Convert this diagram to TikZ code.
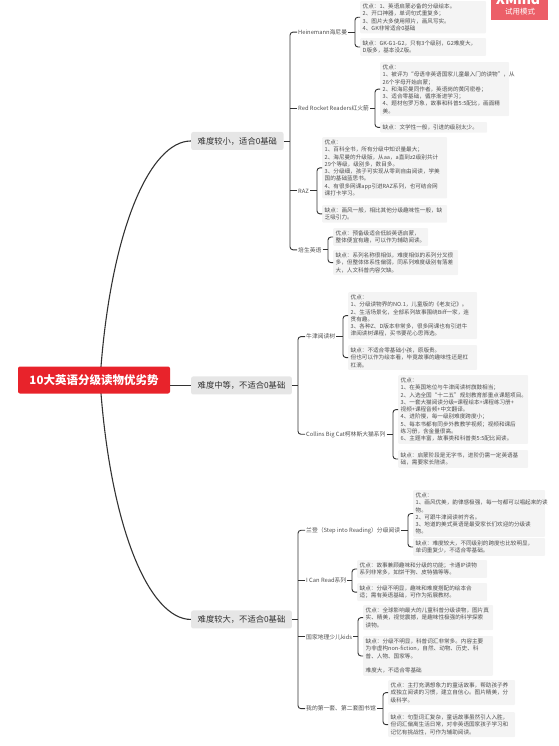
\documentclass[tikz,border=0pt]{standalone}
\usepackage{fontspec}
\setmainfont{Noto Sans CJK SC}
\usetikzlibrary{calc,backgrounds}
\definecolor{rootred}{HTML}{E8232B}
\definecolor{badgec}{HTML}{EC5F68}
\definecolor{l1bg}{HTML}{E6E6E6}
\definecolor{l1tx}{HTML}{333333}
\definecolor{boxbg}{HTML}{F4F4F4}
\definecolor{boxtx}{HTML}{4F4F4F}
\definecolor{l2tx}{HTML}{4F4F4F}
\definecolor{linec}{HTML}{333333}
\tikzset{
  cbox/.style={fill=boxbg, text=boxtx, font=\fontsize{5.6}{7.3}\selectfont, align=left,
    inner xsep=2.5pt, inner ysep=2.5pt, anchor=north west, rounded corners=1pt},
  l2/.style={text=l2tx, font=\fontsize{5.8}{7}\selectfont, inner sep=1pt, anchor=west},
  l1/.style={fill=l1bg, text=l1tx, font=\fontsize{8.3}{10}\selectfont, inner xsep=6.5pt,
    minimum height=18pt, rounded corners=2pt, anchor=west},
  rootn/.style={fill=rootred, text=white, font=\bfseries\fontsize{11.5}{13}\selectfont,
    minimum width=152pt, minimum height=27pt, rounded corners=2pt},
  ln/.style={draw=linec, line width=0.9pt},
  brk/.style={draw=linec, line width=0.9pt, rounded corners=3pt},
  curv/.style={draw=linec, line width=1.1pt},
}
\begin{document}
\begin{tikzpicture}[x=1pt,y=-1pt]
\useasboundingbox (0,0) rectangle (558,746);
\clip (0,0) rectangle (558,746);
\coordinate (c1) at (191,0);
\coordinate (c2a) at (297,0);
\coordinate (c2b) at (305,0);

% badge
\node[fill=badgec, minimum width=57pt, minimum height=20pt, inner sep=0pt, anchor=north west] (badge) at (491,0) {};
\node[text=white, font=\bfseries\fontsize{14}{14}\selectfont, anchor=base] (xm) at (518,4.5) {XMind};
\node[text=white, font=\fontsize{7.5}{8}\selectfont] (try) at (520,12) {试用模式};

% ---------- group 1 boxes ----------
\node[cbox, text width=121pt] (h1) at (360,1) {优点：1、英语启蒙必备的分级绘本。\\2、开口神器，单词句式重复多；\\3、图片大多使用照片，画风写实。\\4、GK非常适合0基础};
\node[cbox, text width=121pt] (h2) at (360,38) {缺点：GK-G1-G2，只有3个级别，G2难度大，\\D版多，基本没Z版。};
\node[cbox, text width=124pt] (r1) at (380,62) {优点：\\1、被评为“母语非英语国家儿童最入门的读物”，从\\26个字母开始启蒙；\\2、和海尼曼同作者，英语岗的黄冈密卷；\\3、适合零基础，循序渐进学习；\\4、题材包罗万象，故事和科普5:5配比，画面精\\美。};
\node[cbox, text width=102pt] (r2) at (380,122) {缺点：文学性一般，引进的级别太少。};
\node[cbox, text width=120pt] (z1) at (322,137) {优点：\\1、百科全书，所有分级中知识量最大；\\2、海尼曼的升级版，从aa，a直到z2级别共计\\29个等级，级别多，数目多。\\3、分级细，孩子可实现从零到自由阅读，学美\\国的基础蓝思书。\\4、有很多网课app引进RAZ系列，也可结合网\\课打卡学习。};
\node[cbox, text width=120pt] (z2) at (322,205) {缺点：画风一般，相比其他分级趣味性一般，缺\\乏吸引力。};
\node[cbox, text width=90pt] (p1) at (333,228) {优点：预备级适合低龄英语启蒙，\\整体便宜有趣，可以作为辅助阅读。};
\node[cbox, text width=120pt] (p2) at (333,250) {缺点：系列名称很相似，难度相似的系列分叉很\\多，但整体体系性偏弱，同系列难度级别有落差\\大，人文科普内容欠缺。};

% ---------- group 2 boxes ----------
\node[cbox, text width=124pt] (o1) at (348,292) {优点：\\1、分级读物界的NO.1，儿童版的《老友记》。\\2、生活场景化，全部系列故事围绕Biff一家，连\\贯有趣。\\3、各种Z、D版本非常多，很多网课也有引进牛\\津阅读树课程，买书要花心思筛选。};
\node[cbox, text width=124pt] (o2) at (348,345) {缺点：不适合零基础小孩，原版贵。\\但也可以作为绘本看，毕竟故事的趣味性还是杠\\杠滴。};
\node[cbox, text width=125pt] (b1) at (398,375) {优点：\\1、在英国地位与牛津阅读树旗鼓相当；\\2、入选全国“十二五”规划教育部重点课题项目。\\3、一套大猫阅读分级=课程绘本+课程练习册+\\视频+课程音频+中文翻译。\\4、进阶慢，每一级别难度跨度小；\\5、每本书都有同步外教教学视频；视频和课后\\练习册，含金量很高。\\6、主题丰富，故事类和科普类5:5配比阅读。};
\node[cbox, text width=125pt] (b2) at (398,450) {缺点：启蒙阶段是无字书，进阶仍需一定英语基\\础，需要家长陪读。};

% ---------- group 3 boxes ----------
\node[cbox, text width=127pt] (s1) at (413,490) {优点：\\1、画风优美，韵律感极强，每一句都可以唱起来的读\\物。\\2、可跟牛津阅读树齐名。\\3、地道的美式英语是最受家长们欢迎的分级读\\物。};
\node[cbox, text width=127pt] (s2) at (413,538) {缺点：难度较大，不同级别的跨度也比较明显，\\单词重复少，不适合零基础。};
\node[cbox, text width=125pt] (i1) at (357,560) {优点：故事兼顾趣味和分级的功能；卡通IP读物\\系列非常多，如饼干狗、皮特猫等等。};
\node[cbox, text width=125pt] (i2) at (357,583) {缺点：分级不明显，趣味和难度搭配的绘本合\\适；需有英语基础，可作为拓展教材。};
\node[cbox, text width=125pt] (n1) at (363,605) {优点：全球影响最大的儿童科普分级读物，图片真\\实、精美，视觉震撼，是趣味性极强的科学探索\\读物。};
\node[cbox, text width=125pt] (n2) at (363,636) {缺点：分级不明显，科普词汇非常多。内容主要\\为非虚构non-fiction，自然、动物、历史、科\\普、人物、国家等。\\[7.3pt]难度大，不适合零基础};
\node[cbox, text width=122pt] (m1) at (388,680) {优点：主打充满想象力的童话故事，帮助孩子养\\成独立阅读的习惯，建立自信心。图片精美，分\\级科学。};
\node[cbox, text width=122pt] (m2) at (388,712) {缺点：句型词汇复杂，童话故事虽然引人入胜，\\但词汇偏离生活日常，对非英语国家孩子学习和\\记忆有挑战性，可作为辅助阅读。};

% ---------- level 2 labels ----------
\path ($(h1.west)!0.5!(h2.west)$) coordinate (hm);
\node[l2] (hein) at (hm -| c2a) {Heinemann海尼曼};
\path ($(r1.west)!0.5!(r2.west)$) coordinate (rm);
\node[l2] (rr) at (rm -| c2a) {Red Rocket Readers红火箭};
\path ($(z1.west)!0.5!(z2.west)$) coordinate (zm);
\node[l2] (raz) at (zm -| c2a) {RAZ};
\path ($(p1.west)!0.5!(p2.west)$) coordinate (pm);
\node[l2] (pear) at (pm -| c2a) {培生英语};

\path ($(o1.west)!0.5!(o2.west)$) coordinate (om);
\node[l2] (ox) at (om -| c2b) {牛津阅读树};
\path ($(b1.west)!0.5!(b2.west)$) coordinate (bm);
\node[l2] (col) at (bm -| c2b) {Collins Big Cat柯林斯大猫系列};

\path ($(s1.west)!0.5!(s2.west)$) coordinate (sm);
\node[l2] (step) at (sm -| c2b) {兰登（Step into Reading）分级阅读};
\path ($(i1.west)!0.5!(i2.west)$) coordinate (im);
\node[l2] (icr) at (im -| c2b) {I Can Read系列};
\path ($(n1.west)!0.5!(n2.west)$) coordinate (nm);
\node[l2] (ngk) at (nm -| c2b) {国家地理少儿kids};
\path ($(m1.west)!0.5!(m2.west)$) coordinate (mm);
\node[l2] (lib) at (mm -| c2b) {我的第一套、第二套图书馆};

% ---------- level 1 ----------
\path ($(hein.west)!0.5!(pear.west)$) coordinate (g1);
\node[l1] (L1a) at (g1 -| c1) {难度较小，适合0基础};
\path ($(ox.west)!0.5!(col.west)$) coordinate (g2);
\node[l1] (L1b) at (g2 -| c1) {难度中等，不适合0基础};
\path ($(step.west)!0.5!(lib.west)$) coordinate (g3);
\node[l1] (L1c) at (g3 -| c1) {难度较大，不适合0基础};

% root
\node[rootn] (root) at (94,380) {10大英语分级读物优劣势};

% ---------- connectors ----------
\begin{scope}[on background layer]
\draw[curv] ($(root.center)+(6,0)$) .. controls +(10,-150) and +(-41,0) .. (L1a.west);
\draw[curv] ($(root.center)+(6,0)$) .. controls +(10,150) and +(-41,0) .. (L1c.west);
\end{scope}
\draw[curv] (L1b.west -| root.east) -- (L1b.west);

% level1 -> level2
\draw[brk] (hein.west) -- ++(-7,0) |- (pear.west);
\draw[ln] (rr.west) -- ++(-7,0);
\draw[ln] (raz.west) -- ++(-7,0);
\draw[ln] (L1a.east) -- ($(L1a.east -| hein.west)+(-7,0)$);

\draw[brk] (ox.west) -- ++(-7,0) |- (col.west);
\draw[ln] (L1b.east) -- ($(L1b.east -| ox.west)+(-7,0)$);

\draw[brk] (step.west) -- ++(-7,0) |- (lib.west);
\draw[ln] (icr.west) -- ++(-7,0);
\draw[ln] (ngk.west) -- ++(-7,0);
\draw[ln] (L1c.east) -- ($(L1c.east -| step.west)+(-7,0)$);

% level2 -> boxes
\foreach \pp/\a/\b in {hein/h1/h2, rr/r1/r2, raz/z1/z2, pear/p1/p2, ox/o1/o2, col/b1/b2, step/s1/s2, icr/i1/i2, ngk/n1/n2, lib/m1/m2}{
  \draw[brk] (\a.west) -- ++(-5,0) |- (\b.west);
  \draw[ln] (\pp.east) -- ($(\pp.east -| \a.west)+(-5,0)$);
}
\end{tikzpicture}
\end{document}
